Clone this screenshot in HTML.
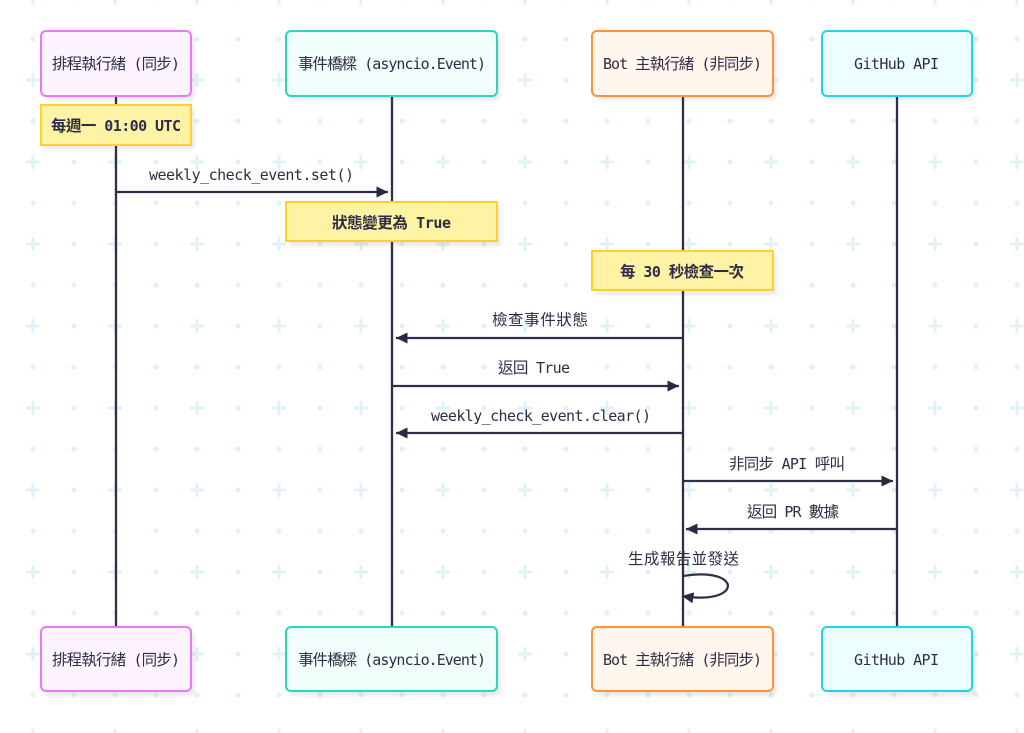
<!DOCTYPE html>
<html><head><meta charset="utf-8"><style>
html,body{margin:0;padding:0;background:#fff;width:1024px;height:733px;overflow:hidden}
svg{display:block;filter:blur(.35px)}
text{font-family:"DejaVu Sans Mono","Noto Sans CJK TC",monospace;font-size:15px;fill:#2f2d45}
tspan.c{font-family:"Noto Sans CJK TC","Noto Sans CJK SC",sans-serif;font-size:15.5px}
.b{font-weight:700}
.l{stroke:#312e48;stroke-width:2.3;fill:none}
.n{fill:#fef2a4;stroke:#fcd128;stroke-width:2}
</style></head><body>
<svg width="1024" height="733" viewBox="0 0 1024 733" xmlns="http://www.w3.org/2000/svg">
<defs>
<pattern id="p2" x="0" y="-2" width="82" height="82" patternUnits="userSpaceOnUse">
<g fill="#e0f2f5">
<rect x="26" y="-1.5" width="14" height="3"/><rect x="31.5" y="-7" width="3" height="14"/>
<rect x="26" y="80.5" width="14" height="3"/><rect x="31.5" y="75" width="3" height="14"/>
<circle cx="74" cy="0" r="2.6"/><circle cx="74" cy="82" r="2.6"/>
<circle cx="33" cy="41" r="2.6"/><circle cx="74" cy="41" r="2.6"/>
</g>
</pattern>
<filter id="s" x="-10%" y="-10%" width="125%" height="135%"><feGaussianBlur stdDeviation="1.5"/></filter>
<marker id="a" markerUnits="userSpaceOnUse" markerWidth="14" markerHeight="14" refX="11.5" refY="5.5" orient="auto"><path d="M0 0L11.5 5.5L0 11z" fill="#2a2845"/></marker>
</defs>
<rect width="1024" height="733" fill="#fff"/>
<rect width="1024" height="733" fill="url(#p2)"/>

<g fill="#000" fill-opacity=".08" filter="url(#s)">
<rect x="45" y="35" width="150" height="65" rx="5"/><rect x="290" y="35" width="211" height="65" rx="5"/><rect x="596" y="35" width="181" height="65" rx="5"/><rect x="826" y="35" width="150" height="65" rx="5"/>
<rect x="45" y="631" width="150" height="65" rx="5"/><rect x="290" y="631" width="211" height="65" rx="5"/><rect x="596" y="631" width="181" height="65" rx="5"/><rect x="826" y="631" width="150" height="65" rx="5"/>
<rect x="45" y="109" width="150" height="40"/><rect x="290" y="206" width="211" height="40"/><rect x="596" y="255" width="181" height="40"/>
</g>

<path class="l" d="M116 96V627M392 96V627M683 96V627M897 96V627"/>

<g stroke-width="2">
<rect x="41" y="31" width="150" height="65" rx="5" fill="#fdf4ff" stroke="#e879f9"/>
<rect x="286" y="31" width="211" height="65" rx="5" fill="#f0fdfa" stroke="#2dd4bf"/>
<rect x="592" y="31" width="181" height="65" rx="5" fill="#fff7ed" stroke="#fb923c"/>
<rect x="822" y="31" width="150" height="65" rx="5" fill="#ecfeff" stroke="#22d3ee"/>
<rect x="41" y="627" width="150" height="64" rx="5" fill="#fdf4ff" stroke="#e879f9"/>
<rect x="286" y="627" width="211" height="64" rx="5" fill="#f0fdfa" stroke="#2dd4bf"/>
<rect x="592" y="627" width="181" height="64" rx="5" fill="#fff7ed" stroke="#fb923c"/>
<rect x="822" y="627" width="150" height="64" rx="5" fill="#ecfeff" stroke="#22d3ee"/>
</g>
<rect class="n" x="41" y="105" width="150" height="40"/>
<rect class="n" x="286" y="202" width="211" height="39"/>
<rect class="n" x="592" y="251" width="181" height="39"/>

<path class="l" marker-end="url(#a)" d="M116 192H388"/>
<path class="l" marker-end="url(#a)" d="M683 338H396"/>
<path class="l" marker-end="url(#a)" d="M392 386H679"/>
<path class="l" marker-end="url(#a)" d="M683 433H396"/>
<path class="l" marker-end="url(#a)" d="M683 481H893"/>
<path class="l" marker-end="url(#a)" d="M897 529H686"/>
<path class="l" marker-end="url(#a)" d="M683 576C743 566 743 606 682 596"/>

<text x="52" y="69" textLength="128"><tspan class="c">排程執行緒</tspan> (<tspan class="c">同步</tspan>)</text>
<text x="298" y="69" textLength="188"><tspan class="c">事件橋樑</tspan> (asyncio.Event)</text>
<text x="603" y="69" textLength="159">Bot <tspan class="c">主執行緒</tspan> (<tspan class="c">非同步</tspan>)</text>
<text x="854" y="69" textLength="85">GitHub API</text>
<text x="52" y="665" textLength="128"><tspan class="c">排程執行緒</tspan> (<tspan class="c">同步</tspan>)</text>
<text x="298" y="665" textLength="188"><tspan class="c">事件橋樑</tspan> (asyncio.Event)</text>
<text x="603" y="665" textLength="159">Bot <tspan class="c">主執行緒</tspan> (<tspan class="c">非同步</tspan>)</text>
<text x="854" y="665" textLength="85">GitHub API</text>
<text class="b" x="51" y="131" textLength="130"><tspan class="c">每週一</tspan> 01:00 UTC</text>
<text class="b" x="332" y="228" textLength="119"><tspan class="c">狀態變更為</tspan> True</text>
<text class="b" x="620" y="277" textLength="124"><tspan class="c">每</tspan> 30 <tspan class="c">秒檢查一次</tspan></text>
<text x="149" y="180" textLength="205">weekly_check_event.set()</text>
<text x="492" y="325" textLength="96"><tspan class="c">檢查事件狀態</tspan></text>
<text x="498" y="373" textLength="72"><tspan class="c">返回</tspan> True</text>
<text x="431" y="421" textLength="220">weekly_check_event.clear()</text>
<text x="729" y="469" textLength="116"><tspan class="c">非同步</tspan> API <tspan class="c">呼叫</tspan></text>
<text x="747" y="517" textLength="92"><tspan class="c">返回</tspan> PR <tspan class="c">數據</tspan></text>
<text x="628" y="564" textLength="111"><tspan class="c">生成報告並發送</tspan></text>
</svg>
</body></html>
